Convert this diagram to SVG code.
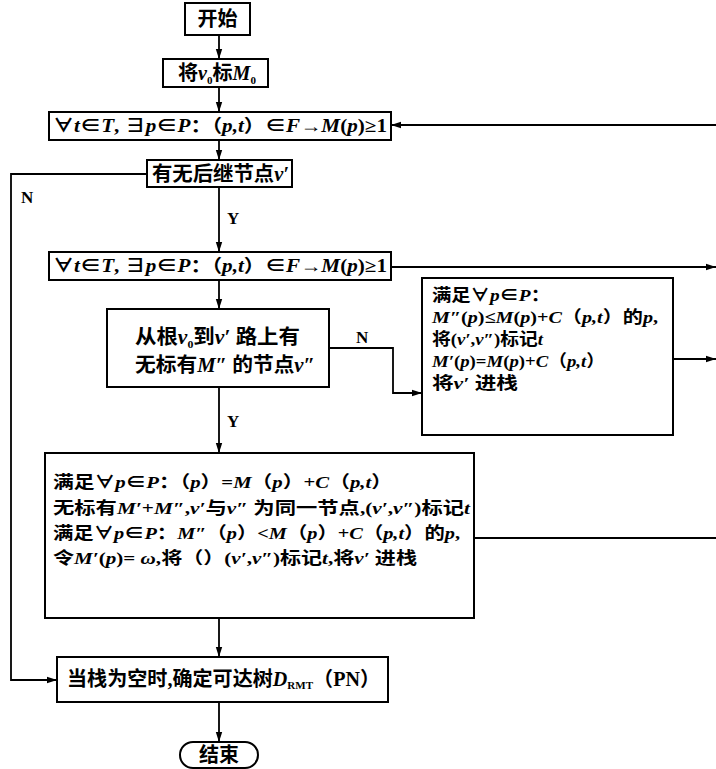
<svg xmlns="http://www.w3.org/2000/svg" width="716" height="769" viewBox="0 0 716 769">
<style>
.box{fill:#fff;stroke:#000;stroke-width:2}
.ln{fill:none;stroke:#000;stroke-width:1.8}
text{font-family:"Liberation Serif","Noto Sans CJK SC",serif;font-weight:bold;fill:#000}
.f20{font-size:20px}
.f18{font-size:18px}
.f16{font-size:17px}
.lab{font-size:17px}
.i{font-style:italic}
.s{font-size:11px}
</style>
<defs>
<marker id="ah" markerWidth="10" markerHeight="8" refX="10" refY="4" orient="auto" markerUnits="userSpaceOnUse">
<path d="M0,0.8 L10,4 L0,7.2 Z" fill="#000"/>
</marker>
</defs>
<g id="connectors">
<path class="ln" d="M219,35 V59" marker-end="url(#ah)"/>
<path class="ln" d="M219,87 V112" marker-end="url(#ah)"/>
<path class="ln" d="M716,125 H391" marker-end="url(#ah)"/>
<path class="ln" d="M219,140 V160" marker-end="url(#ah)"/>
<path class="ln" d="M147,174 H11 V680 H57" marker-end="url(#ah)"/>
<path class="ln" d="M219,187 V252" marker-end="url(#ah)"/>
<path class="ln" d="M391,267 H716" marker-end="url(#ah)"/>
<path class="ln" d="M219,280 V309" marker-end="url(#ah)"/>
<path class="ln" d="M329,348 H393 V393 H422" marker-end="url(#ah)"/>
<path class="ln" d="M673,359 H716" marker-end="url(#ah)"/>
<path class="ln" d="M219,387 V453" marker-end="url(#ah)"/>
<path class="ln" d="M474,538 H716"/>
<path class="ln" d="M219,618 V657" marker-end="url(#ah)"/>
<path class="ln" d="M219,702 V742" marker-end="url(#ah)"/>
<text class="lab" x="21" y="203">N</text>
<text class="lab" x="227" y="224">Y</text>
<text class="lab" x="356" y="343">N</text>
<text class="lab" x="227" y="427">Y</text>
</g>
<g id="start">
<rect class="box" x="185" y="3" width="65" height="32"/>
<text class="f20" x="217.5" y="26" text-anchor="middle">开始</text>
</g>
<g id="init">
<rect class="box" x="163" y="59" width="105" height="28"/>
<text class="f20" x="178" y="80" textLength="78" lengthAdjust="spacingAndGlyphs">将<tspan class="i">v</tspan><tspan class="s" dy="4">0</tspan><tspan dy="-4">标</tspan><tspan class="i">M</tspan><tspan class="s" dy="4">0</tspan></text>
</g>
<g id="cond1">
<rect class="box" x="49" y="112" width="342" height="28"/>
<text class="f18" x="53" y="132" textLength="334" lengthAdjust="spacingAndGlyphs">∀<tspan class="i">t</tspan>∈<tspan class="i">T</tspan>, ∃<tspan class="i">p</tspan>∈<tspan class="i">P</tspan>：（<tspan class="i">p,t</tspan>）∈<tspan class="i">F</tspan>→<tspan class="i">M</tspan>(<tspan class="i">p</tspan>)≥1</text>
</g>
<g id="succ">
<rect class="box" x="147" y="160" width="145" height="27"/>
<text class="f20" x="152" y="181" textLength="137" lengthAdjust="spacingAndGlyphs">有无后继节点<tspan class="i">v′</tspan></text>
</g>
<g id="cond2">
<rect class="box" x="49" y="252" width="342" height="28"/>
<text class="f18" x="53" y="272" textLength="334" lengthAdjust="spacingAndGlyphs">∀<tspan class="i">t</tspan>∈<tspan class="i">T</tspan>, ∃<tspan class="i">p</tspan>∈<tspan class="i">P</tspan>：（<tspan class="i">p,t</tspan>）∈<tspan class="i">F</tspan>→<tspan class="i">M</tspan>(<tspan class="i">p</tspan>)≥1</text>
</g>
<g id="path">
<rect class="box" x="107" y="309" width="222" height="78"/>
<text class="f20" x="135" y="344" textLength="165" lengthAdjust="spacingAndGlyphs">从根<tspan class="i">v</tspan><tspan class="s" dy="4">0</tspan><tspan dy="-4">到</tspan><tspan class="i">v′</tspan> 路上有</text>
<text class="f20" x="135" y="372" textLength="180" lengthAdjust="spacingAndGlyphs">无标有<tspan class="i">M″</tspan> 的节点<tspan class="i">v″</tspan></text>
</g>
<g id="branchN">
<rect class="box" x="422" y="278" width="251" height="157"/>
<text class="f16" x="432" y="301" textLength="118" lengthAdjust="spacingAndGlyphs">满足∀<tspan class="i">p</tspan>∈<tspan class="i">P</tspan>：</text>
<text class="f16" x="432" y="323" textLength="226" lengthAdjust="spacingAndGlyphs"><tspan class="i">M″</tspan>(<tspan class="i">p</tspan>)≤<tspan class="i">M</tspan>(<tspan class="i">p</tspan>)+<tspan class="i">C</tspan>（<tspan class="i">p,t</tspan>）的<tspan class="i">p</tspan>,</text>
<text class="f16" x="432" y="345" textLength="111" lengthAdjust="spacingAndGlyphs">将(<tspan class="i">v′</tspan>,<tspan class="i">v″</tspan>)标记<tspan class="i">t</tspan></text>
<text class="f16" x="432" y="367" textLength="173" lengthAdjust="spacingAndGlyphs"><tspan class="i">M′</tspan>(<tspan class="i">p</tspan>)=<tspan class="i">M</tspan>(<tspan class="i">p</tspan>)+<tspan class="i">C</tspan>（<tspan class="i">p,t</tspan>）</text>
<text class="f16" x="432" y="389" textLength="86" lengthAdjust="spacingAndGlyphs">将<tspan class="i">v′</tspan> 进栈</text>
</g>
<g id="branchY">
<rect class="box" x="45" y="453" width="429" height="165"/>
<text class="f16" x="53" y="488" textLength="339" lengthAdjust="spacingAndGlyphs">满足∀<tspan class="i">p</tspan>∈<tspan class="i">P</tspan>：（<tspan class="i">p</tspan>）=<tspan class="i">M</tspan>（<tspan class="i">p</tspan>）+<tspan class="i">C</tspan>（<tspan class="i">p,t</tspan>）</text>
<text class="f16" x="53" y="514" textLength="417" lengthAdjust="spacingAndGlyphs">无标有<tspan class="i">M′</tspan>+<tspan class="i">M″</tspan>,<tspan class="i">v′</tspan>与<tspan class="i">v″</tspan> 为同一节点,(<tspan class="i">v′</tspan>,<tspan class="i">v″</tspan>)标记<tspan class="i">t</tspan></text>
<text class="f16" x="53" y="539" textLength="407" lengthAdjust="spacingAndGlyphs">满足∀<tspan class="i">p</tspan>∈<tspan class="i">P</tspan>：<tspan class="i">M″</tspan>（<tspan class="i">p</tspan>）&lt;<tspan class="i">M</tspan>（<tspan class="i">p</tspan>）+<tspan class="i">C</tspan>（<tspan class="i">p,t</tspan>）的<tspan class="i">p</tspan>,</text>
<text class="f16" x="53" y="564" textLength="364" lengthAdjust="spacingAndGlyphs">令<tspan class="i">M′</tspan>(<tspan class="i">p</tspan>)= <tspan class="i">ω</tspan>,将（）(<tspan class="i">v′</tspan>,<tspan class="i">v″</tspan>)标记<tspan class="i">t</tspan>,将<tspan class="i">v′</tspan> 进栈</text>
</g>
<g id="tree">
<rect class="box" x="57" y="657" width="331" height="45"/>
<text class="f20" x="67" y="686" textLength="313" lengthAdjust="spacingAndGlyphs">当栈为空时,确定可达树<tspan class="i">D</tspan><tspan class="s" dy="3">RMT</tspan><tspan dy="-3">（PN）</tspan></text>
</g>
<g id="end">
<rect class="box" x="180" y="742" width="78" height="26" rx="13" ry="13"/>
<text class="f20" x="219" y="762" text-anchor="middle">结束</text>
</g>
</svg>
